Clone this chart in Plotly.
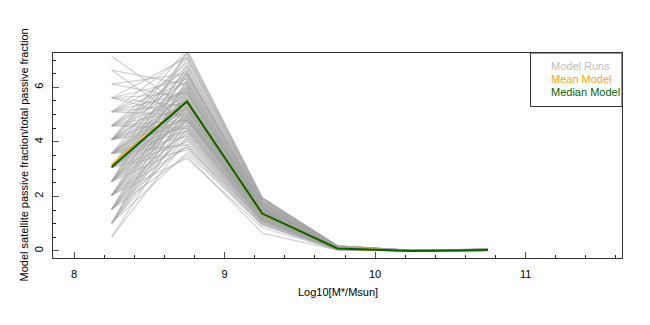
import plotly.graph_objects as go

# Stellar mass bins (log10 M*/Msun)
mass_bins = [8.25, 8.75, 9.25, 9.75, 10.25, 10.75]

# Individual model runs (satellite passive fraction / total passive fraction)
model_runs = [
    [0.51, 4.1, 1.05, 0.06, 0.00, 0.02],
    [0.51, 4.8, 1.25, 0.09, 0.01, 0.03],
    [1.02, 3.6, 0.95, 0.05, 0.00, 0.02],
    [1.02, 4.5, 1.20, 0.08, 0.00, 0.03],
    [1.02, 5.2, 1.40, 0.11, 0.01, 0.05],
    [1.02, 6.0, 1.55, 0.13, 0.01, 0.04],
    [1.02, 4.9, 1.30, 0.10, 0.00, 0.03],
    [1.53, 3.9, 1.10, 0.07, 0.00, 0.03],
    [1.53, 4.6, 1.25, 0.09, 0.01, 0.04],
    [1.53, 5.4, 1.45, 0.12, 0.01, 0.05],
    [1.53, 6.3, 1.70, 0.15, 0.01, 0.05],
    [1.53, 5.0, 1.35, 0.10, 0.00, 0.04],
    [1.53, 4.3, 1.15, 0.08, 0.00, 0.02],
    [1.53, 3.5, 0.65, 0.03, 0.00, 0.01],
    [2.04, 3.4, 0.85, 0.04, 0.00, 0.01],
    [2.04, 4.4, 1.20, 0.08, 0.00, 0.03],
    [2.04, 5.1, 1.35, 0.10, 0.01, 0.04],
    [2.04, 5.7, 1.50, 0.12, 0.01, 0.05],
    [2.04, 6.6, 1.80, 0.16, 0.02, 0.06],
    [2.04, 4.8, 1.30, 0.09, 0.00, 0.03],
    [2.04, 5.3, 1.40, 0.11, 0.01, 0.04],
    [2.55, 3.8, 1.00, 0.06, 0.00, 0.02],
    [2.55, 4.6, 1.25, 0.09, 0.01, 0.03],
    [2.55, 5.2, 1.40, 0.11, 0.01, 0.04],
    [2.55, 5.8, 1.55, 0.13, 0.01, 0.05],
    [2.55, 6.8, 1.90, 0.18, 0.02, 0.07],
    [2.55, 5.5, 1.45, 0.12, 0.00, 0.04],
    [2.55, 4.9, 1.30, 0.10, 0.00, 0.03],
    [2.55, 6.2, 1.65, 0.14, 0.01, 0.05],
    [3.06, 4.0, 1.10, 0.07, 0.00, 0.02],
    [3.06, 4.7, 1.25, 0.09, 0.00, 0.03],
    [3.06, 5.3, 1.40, 0.11, 0.01, 0.04],
    [3.06, 5.9, 1.55, 0.13, 0.01, 0.05],
    [3.06, 7.3, 1.95, 0.19, 0.02, 0.07],
    [3.06, 5.6, 1.50, 0.12, 0.01, 0.04],
    [3.06, 5.0, 1.35, 0.10, 0.00, 0.03],
    [3.06, 6.4, 1.70, 0.15, 0.01, 0.06],
    [3.06, 4.4, 1.15, 0.08, 0.00, 0.03],
    [3.57, 4.2, 1.10, 0.07, 0.00, 0.02],
    [3.57, 4.9, 1.30, 0.10, 0.00, 0.03],
    [3.57, 5.5, 1.45, 0.12, 0.01, 0.04],
    [3.57, 6.1, 1.60, 0.14, 0.01, 0.05],
    [3.57, 7.0, 1.85, 0.17, 0.02, 0.06],
    [3.57, 5.2, 1.40, 0.11, 0.01, 0.04],
    [3.57, 5.8, 1.55, 0.13, 0.01, 0.05],
    [3.57, 4.6, 1.20, 0.08, 0.00, 0.03],
    [4.08, 4.5, 1.20, 0.08, 0.00, 0.03],
    [4.08, 5.1, 1.35, 0.10, 0.01, 0.04],
    [4.08, 5.7, 1.50, 0.12, 0.01, 0.05],
    [4.08, 6.5, 1.75, 0.15, 0.01, 0.06],
    [4.08, 7.4, 1.95, 0.19, 0.02, 0.07],
    [4.08, 5.4, 1.45, 0.11, 0.00, 0.04],
    [4.08, 6.0, 1.60, 0.13, 0.01, 0.05],
    [4.59, 4.8, 1.25, 0.09, 0.00, 0.03],
    [4.59, 5.5, 1.45, 0.11, 0.01, 0.04],
    [4.59, 6.2, 1.65, 0.14, 0.01, 0.05],
    [4.59, 6.9, 1.85, 0.17, 0.02, 0.06],
    [4.59, 5.9, 1.55, 0.13, 0.01, 0.05],
    [5.10, 5.0, 1.30, 0.10, 0.00, 0.03],
    [5.10, 5.8, 1.55, 0.12, 0.01, 0.04],
    [5.10, 6.6, 1.75, 0.16, 0.01, 0.06],
    [5.10, 7.2, 1.90, 0.18, 0.02, 0.07],
    [5.61, 5.3, 1.40, 0.11, 0.01, 0.04],
    [5.61, 6.3, 1.70, 0.15, 0.01, 0.05],
    [5.61, 7.1, 1.90, 0.18, 0.02, 0.06],
    [6.12, 5.6, 1.50, 0.12, 0.01, 0.04],
    [6.63, 4.7, 1.30, 0.10, 0.00, 0.03],
    [6.63, 6.1, 1.60, 0.14, 0.01, 0.05],
    [7.14, 5.2, 1.40, 0.11, 0.01, 0.04],
    [1.02, 5.6, 1.45, 0.11, 0.01, 0.04],
    [1.53, 5.8, 1.55, 0.12, 0.01, 0.04],
    [1.53, 4.9, 1.30, 0.09, 0.00, 0.03],
    [2.04, 6.1, 1.60, 0.13, 0.01, 0.05],
    [2.04, 4.1, 1.10, 0.07, 0.00, 0.02],
    [2.04, 5.5, 1.45, 0.11, 0.01, 0.04],
    [2.55, 5.0, 1.35, 0.10, 0.00, 0.03],
    [2.55, 5.6, 1.50, 0.12, 0.01, 0.04],
    [2.55, 4.3, 1.15, 0.08, 0.00, 0.03],
    [2.55, 6.5, 1.75, 0.15, 0.01, 0.06],
    [3.06, 5.4, 1.45, 0.11, 0.01, 0.04],
    [3.06, 5.1, 1.35, 0.10, 0.00, 0.03],
    [3.06, 6.0, 1.60, 0.13, 0.01, 0.05],
    [3.06, 4.8, 1.30, 0.09, 0.00, 0.03],
    [3.06, 6.7, 1.80, 0.16, 0.01, 0.06],
    [3.57, 5.3, 1.40, 0.11, 0.01, 0.04],
    [3.57, 5.6, 1.50, 0.12, 0.01, 0.04],
    [3.57, 6.4, 1.70, 0.15, 0.01, 0.05],
    [3.57, 4.4, 1.15, 0.08, 0.00, 0.03],
    [4.08, 5.2, 1.40, 0.11, 0.01, 0.04],
    [4.08, 5.9, 1.55, 0.13, 0.01, 0.05],
    [4.08, 4.8, 1.25, 0.09, 0.00, 0.03],
    [4.08, 6.8, 1.80, 0.17, 0.02, 0.06],
    [4.59, 5.2, 1.40, 0.11, 0.01, 0.04],
    [4.59, 6.5, 1.75, 0.15, 0.01, 0.06],
    [4.59, 4.5, 1.20, 0.08, 0.00, 0.03],
    [5.10, 5.4, 1.45, 0.11, 0.01, 0.04],
    [5.10, 6.2, 1.65, 0.14, 0.01, 0.05],
    [5.61, 5.8, 1.55, 0.13, 0.01, 0.05],
    [5.61, 4.9, 1.30, 0.10, 0.00, 0.03],
    [6.12, 6.5, 1.75, 0.15, 0.01, 0.05],
    [1.02, 4.2, 1.15, 0.07, 0.00, 0.02],
    [2.04, 3.8, 1.00, 0.06, 0.00, 0.02],
    [3.06, 3.7, 0.95, 0.05, 0.00, 0.02],
    [3.57, 3.9, 1.05, 0.06, 0.00, 0.02],
    [4.08, 7.1, 1.90, 0.18, 0.02, 0.07],
    [2.55, 7.3, 1.95, 0.19, 0.02, 0.07],
]

mean_model = [3.16, 5.48, 1.37, 0.09, 0.00, 0.03]
median_model = [3.08, 5.48, 1.37, 0.09, 0.00, 0.03]

legend_labels = ["Model Runs", "Mean Model", "Median Model"]
legend_colors = ["#BEBEBE", "#FFA500", "#006400"]

x_title = "Log10[M*/Msun]"
y_title = "Model satellite passive fraction/total passive fraction"

FONT = "Liberation Sans, Arial, Helvetica, sans-serif"

fig = go.Figure()
for run in model_runs:
    fig.add_trace(go.Scatter(x=mass_bins, y=run, mode="lines",
                             line=dict(color="rgba(165,165,165,0.5)", width=1.2),
                             hoverinfo="skip", showlegend=False))
fig.add_trace(go.Scatter(x=mass_bins, y=mean_model, mode="lines",
                         line=dict(color=legend_colors[1], width=2), showlegend=False))
fig.add_trace(go.Scatter(x=mass_bins, y=median_model, mode="lines",
                         line=dict(color=legend_colors[2], width=2), showlegend=False))

# page places the figure 8px from the top-left corner (default body margin)
OFF = 8
W, H = 642, 317
L, T = 53 - OFF, 53 - OFF
R = W - (622 - OFF)
B = H - (258 - OFF)
pw, ph = W - L - R, H - T - B

def px2paper_x(px):
    return (px - OFF - L) / pw

def px2paper_y(py):
    return (H - B - (py - OFF)) / ph

# legend box (text-only legend, as in the original)
fig.add_shape(type="rect", xref="paper", yref="paper",
              x0=px2paper_x(530.5), x1=1.0, y0=px2paper_y(106.5), y1=1.0,
              line=dict(color="#333333", width=1), fillcolor="white", layer="above")
for i, (lab, col) in enumerate(zip(legend_labels, legend_colors)):
    fig.add_annotation(xref="paper", yref="paper", x=px2paper_x(549), y=px2paper_y(66 + 13 * i),
                       text=lab, showarrow=False, xanchor="left", yanchor="middle",
                       font=dict(family=FONT, size=11, color=col))

# axis titles placed as annotations for exact positioning
fig.add_annotation(xref="paper", yref="paper", x=0.5, y=px2paper_y(292), text=x_title,
                   showarrow=False, xanchor="center", yanchor="middle",
                   font=dict(family=FONT, size=11, color="black"))
fig.add_annotation(xref="paper", yref="paper", x=px2paper_x(23), y=0.5, text=y_title,
                   showarrow=False, xanchor="center", yanchor="middle", textangle=-90,
                   font=dict(family=FONT, size=11, color="black"))

axis_common = dict(showline=True, linecolor="#333333", linewidth=1, mirror=True,
                   showgrid=False, zeroline=False, ticks="inside", ticklen=6,
                   tickcolor="#555555", automargin=False,
                   tickfont=dict(family=FONT, size=11, color="black"))

fig.update_layout(
    width=W, height=H,
    margin=dict(l=L, r=R, t=T, b=B),
    paper_bgcolor="white", plot_bgcolor="white",
    hovermode=False,
    showlegend=False,
    xaxis=dict(range=[7.86, 11.64], tick0=8, dtick=1, ticklabelstandoff=6,
               minor=dict(dtick=0.2, ticks="inside", ticklen=3, tickcolor="#222222"),
               **axis_common),
    yaxis=dict(range=[-0.26, 7.26], tick0=0, dtick=2, tickangle=-90, ticklabelstandoff=5,
               minor=dict(dtick=0.5, ticks="inside", ticklen=3, tickcolor="#222222"),
               **axis_common),
)

fig.write_html("out.html")
